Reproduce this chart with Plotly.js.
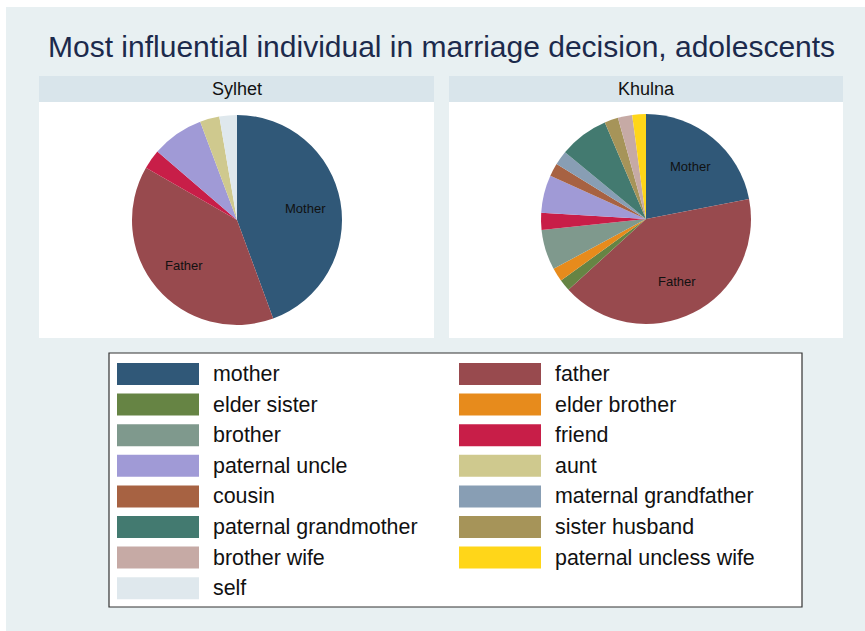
<!DOCTYPE html>
<html>
<head>
<meta charset="utf-8">
<script src="https://cdn.plot.ly/plotly-3.0.1.min.js"></script>
<style>html,body{margin:0;padding:0;background:#fff;}#chart{width:865px;height:631px;}</style>
</head>
<body>
<div id="chart"></div>
<script>
// ---- data ----
const categories = ["mother","father","elder sister","elder brother","brother","friend","paternal uncle","aunt","cousin","maternal grandfather","paternal grandmother","sister husband","brother wife","paternal uncless wife","self"];
const colors = ["#305878","#984a4e","#668444","#e78b1c","#7f998d","#c81e48","#a09ad6","#cfc98e","#a76242","#889eb4","#437a70","#a69459","#c6aaa5","#ffd619","#dfe8ed"];
const sylhetValues = [44.4, 38.9, 0, 0, 0, 3.0, 8.0, 3.0, 0, 0, 0, 0, 0, 0, 2.7];
const khulnaValues = [21.9, 41.2, 1.8, 2.1, 6.2, 2.6, 5.8, 0, 2.0, 2.2, 7.6, 2.1, 2.2, 2.1, 0];
const sliceLabels = ["Mother","Father"];
const panelTitles = ["Sylhet","Khulna"];
const chartTitle = "Most influential individual in marriage decision, adolescents";
// legend order (two columns, row-wise)
const legendOrder = ["mother","father","elder sister","elder brother","brother","friend","paternal uncle","aunt","cousin","maternal grandfather","paternal grandmother","sister husband","brother wife","paternal uncless wife","self"];

const W = 865, H = 631;
const px = x => x / W;
const py = y => 1 - y / H;

const FONT = "Liberation Sans, Arial, sans-serif";
const shapes = [];
const annotations = [];

// background
shapes.push({type:"rect", xref:"paper", yref:"paper", x0:px(6), x1:px(865), y0:py(631), y1:py(7), fillcolor:"#e8f0f2", line:{width:0}, layer:"below"});

// panels
const panels = [
  {x0:39, x1:434, cx:237, cy:220},
  {x0:449, x1:843, cx:646, cy:219}
];
const R = 105;
panels.forEach((p, i) => {
  shapes.push({type:"rect", xref:"paper", yref:"paper", x0:px(p.x0), x1:px(p.x1), y0:py(102), y1:py(76), fillcolor:"#d9e5eb", line:{width:0}, layer:"below"});
  shapes.push({type:"rect", xref:"paper", yref:"paper", x0:px(p.x0), x1:px(p.x1), y0:py(338), y1:py(102), fillcolor:"#ffffff", line:{width:0}, layer:"below"});
  annotations.push({xref:"paper", yref:"paper", x:px((p.x0+p.x1)/2), y:py(89), text:panelTitles[i], showarrow:false, xanchor:"center", yanchor:"middle", font:{family:FONT, size:18, color:"#111"}});
});

// title
annotations.push({xref:"paper", yref:"paper", x:px(442), y:py(47), text:chartTitle, showarrow:false, xanchor:"center", yanchor:"middle", font:{family:FONT, size:30, color:"#1c2a4c"}});

// pies
const allValues = [sylhetValues, khulnaValues];
const data = allValues.map((vals, i) => {
  const p = panels[i];
  return {
    type:"pie",
    values: vals,
    labels: categories,
    marker:{colors: colors, line:{width:0}},
    sort:false,
    direction:"clockwise",
    rotation:0,
    textinfo:"none",
    hoverinfo:"label+value",
    showlegend:false,
    domain:{x:[px(p.cx-R), px(p.cx+R)], y:[py(p.cy+R), py(p.cy-R)]}
  };
});

// slice labels for mother & father (placed at 2/3 radius along mid-angle)
allValues.forEach((vals, i) => {
  const p = panels[i];
  const total = vals.reduce((a,b)=>a+b,0);
  let cum = 0;
  vals.forEach((v, k) => {
    const mid = (cum + v/2) / total * 2 * Math.PI;
    cum += v;
    if (k < sliceLabels.length) {
      const r = 0.66 * R;
      annotations.push({xref:"paper", yref:"paper", x:px(p.cx + r*Math.sin(mid)), y:py(p.cy - r*Math.cos(mid) + 1), text:sliceLabels[k], showarrow:false, xanchor:"center", yanchor:"middle", font:{family:FONT, size:13, color:"#111"}});
    }
  });
});

// legend box
shapes.push({type:"rect", xref:"paper", yref:"paper", x0:px(109), x1:px(802), y0:py(607), y1:py(353), fillcolor:"#ffffff", line:{color:"#333", width:1.2}, layer:"below"});
const colSwatchX = [117, 459];
const colTextX = [211, 553];
const row0 = 374, rowStep = 30.6, swH = 22, swW = 82;
legendOrder.forEach((name, j) => {
  const col = j % 2, row = Math.floor(j / 2);
  const yc = row0 + row*rowStep;
  const c = colors[categories.indexOf(name)];
  shapes.push({type:"rect", xref:"paper", yref:"paper", x0:px(colSwatchX[col]), x1:px(colSwatchX[col]+swW), y0:py(yc+swH/2), y1:py(yc-swH/2), fillcolor:c, line:{width:0}});
  annotations.push({xref:"paper", yref:"paper", x:px(colTextX[col]), y:py(yc), text:name, showarrow:false, xanchor:"left", yanchor:"middle", font:{family:FONT, size:21.4, color:"#111"}});
});

const layout = {
  width:W, height:H,
  margin:{l:0, r:0, t:0, b:0},
  paper_bgcolor:"#ffffff",
  showlegend:false,
  shapes, annotations
};
Plotly.newPlot("chart", data, layout, {displayModeBar:false, staticPlot:true});
</script>
</body>
</html>
